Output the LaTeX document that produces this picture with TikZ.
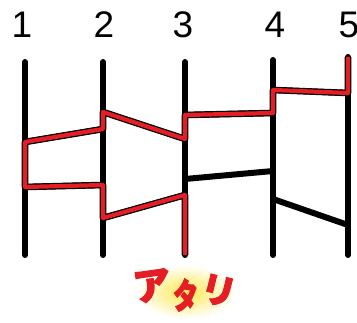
\documentclass[tikz,border=0pt]{standalone}
\usepackage{fontspec}
\usepackage{graphicx}
\setmainfont{Liberation Sans}
\newfontfamily\jpfont{Noto Sans CJK JP}[FakeBold=3]
\definecolor{hitred}{RGB}{228,30,36}
\begin{document}
\begin{tikzpicture}[x=1pt, y=-1pt,
  pole/.style={line width=6pt, line cap=round},
  rung/.style={line width=6pt},
  hitpath/.style={hitred, line width=4.2pt, line join=round},
  hitedge/.style={black, line width=6.6pt, line join=round},
  num/.style={font=\fontsize{37}{37}\selectfont, inner sep=0pt},
  kana/.style={hitred, inner sep=0pt, font=\jpfont\bfseries\fontsize{29}{29}\selectfont}]
  \useasboundingbox (0,0) rectangle (357,323);
  % ---- the five poles with their numbers ----
  \foreach \n/\x/\t/\nx in {1/25/62/22, 2/103/62/104, 3/185/62/183, 4/273/60/275, 5/348/57/349} {
    \coordinate (top\n) at (\x,\t);
    \coordinate (bot\n) at (\x,255);
    \node[num] (num\n) at (\nx,25) {\n};
    \draw[pole] (top\n) -- (bot\n);
  }
  % ---- rungs between neighbouring poles ----
  \foreach \r/\xa/\ya/\xb/\yb in {
    a/25/142/103/129, b/25/187/103/185, c/103/112/185/139, d/103/218/185/195,
    e/185/115/273/113, f/185/179/273/171, g/273/90/348/93, h/273/199/348/225} {
    \coordinate (\r L) at (\xa,\ya);
    \coordinate (\r R) at (\xb,\yb);
    \draw[rung] (\r L) -- (\r R);
  }
  % ---- the winning path from pole 5 ----
  \foreach \sty in {hitedge, hitpath}
    \draw[\sty] (top5) -- (gR) -- (gL) -- (eR) -- (eL) -- (cR) -- (cL) -- (aR)
      -- (aL) -- (bL) -- (bR) -- (dL) -- (dR) -- (bot3);
  % ---- prize label ----
  \shade[inner color=yellow!75!orange!70, outer color=white] (186,292) ellipse (50 and 27);
  \node[kana] (prize) at (185,291) {\scalebox{1.3}{\rotatebox{8}{ア}}\kern-1pt
    \raisebox{-6pt}{\scalebox{0.85}[1.25]{\rotatebox{-6}{タ}}}\kern-1pt
    \raisebox{3pt}{\scalebox{1.2}{\rotatebox{-14}{リ}}}};
\end{tikzpicture}
\end{document}
